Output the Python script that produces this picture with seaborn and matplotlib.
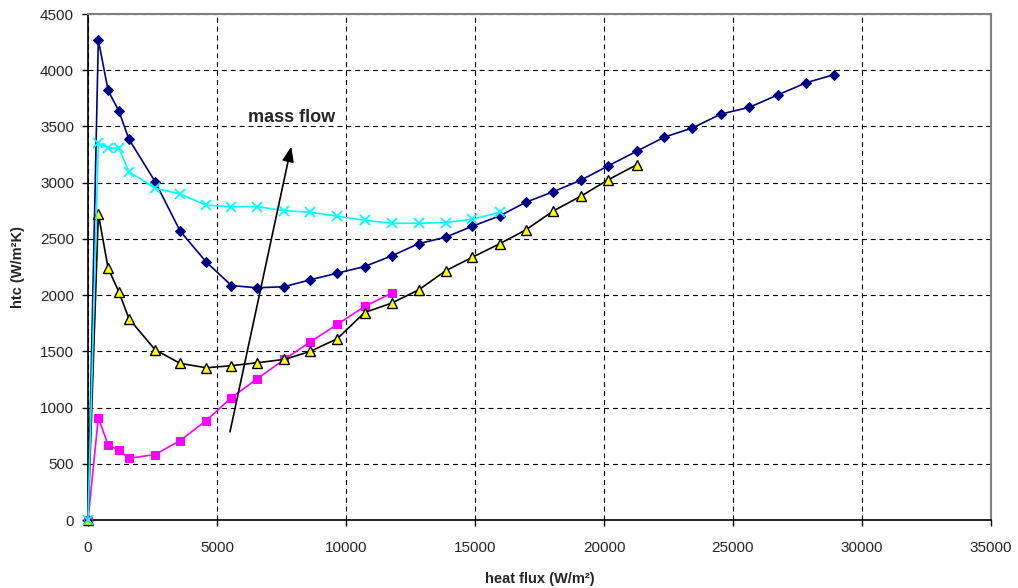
import matplotlib
matplotlib.use("Agg")
import matplotlib.pyplot as plt
import seaborn as sns

# ---- data ----
heat_flux = [0, 400, 780, 1190, 1590, 2600, 3570, 4580, 5560, 6560, 7610, 8610,
             9660, 10720, 11770, 12820, 13860, 14900, 15950, 16970, 18040, 19120,
             20150, 21270, 22340, 23430, 24530, 25630, 26730, 27830, 28900]

htc_diamond = [0, 4270, 3820, 3640, 3385, 3010, 2570, 2295, 2085, 2065, 2075, 2136,
               2195, 2254, 2349, 2458, 2515, 2613, 2704, 2826, 2920, 3024, 3148,
               3280, 3405, 3487, 3610, 3670, 3780, 3888, 3960]

htc_square = [0, 910, 668, 623, 549, 582, 706, 884, 1088, 1257, 1428, 1583, 1739,
              1899, 2018]

htc_triangle = [0, 2722, 2240, 2032, 1790, 1514, 1393, 1354, 1372, 1399, 1428, 1499,
                1612, 1845, 1929, 2047, 2216, 2337, 2456, 2580, 2749, 2882, 3024, 3160]

htc_cross = [0, 3355, 3308, 3308, 3098, 2950, 2900, 2799, 2787, 2787, 2751, 2737,
             2702, 2666, 2639, 2639, 2645, 2675, 2737]

x_ticks = [0, 5000, 10000, 15000, 20000, 25000, 30000, 35000]
y_ticks = [0, 500, 1000, 1500, 2000, 2500, 3000, 3500, 4000, 4500]

# ---- style ----
sns.set_style("white")
plt.rcParams['font.family'] = ['Liberation Sans', 'DejaVu Sans']

fig = plt.figure(figsize=(10.18, 5.88), dpi=100)
ax = fig.add_axes([88 / 1018, 1 - 520 / 588, (991 - 88) / 1018, (520 - 14) / 588])

sns.lineplot(x=heat_flux[:len(htc_diamond)], y=htc_diamond, ax=ax, color="#000080",
             marker="D", markersize=5.5, markeredgecolor="#000080", linewidth=1.2,
             estimator=None, sort=False, zorder=3, clip_on=False)
sns.lineplot(x=heat_flux[:len(htc_square)], y=htc_square, ax=ax, color="#FF00FF",
             marker="s", markersize=6, markeredgecolor="#FF00FF", linewidth=1.2,
             estimator=None, sort=False, zorder=4, clip_on=False)
sns.lineplot(x=heat_flux[:len(htc_triangle)], y=htc_triangle, ax=ax, color="black",
             marker="^", markersize=7.5, markerfacecolor="#FFFF00",
             markeredgecolor="black", markeredgewidth=1.0, linewidth=1.2,
             estimator=None, sort=False, zorder=5, clip_on=False)
sns.lineplot(x=heat_flux[:len(htc_cross)], y=htc_cross, ax=ax, color="#00FFFF",
             marker="x", markersize=7, markeredgecolor="#00FFFF", markeredgewidth=1.3,
             linewidth=1.2, estimator=None, sort=False, zorder=6, clip_on=False)

ax.set_xlim(0, 35000)
ax.set_ylim(0, 4500)
ax.set_xticks(x_ticks)
ax.set_yticks(y_ticks)
ax.set_xticklabels([str(v) for v in x_ticks], fontsize=11)
ax.set_yticklabels([str(v) for v in y_ticks], fontsize=11)

ax.grid(True, color="black", linestyle=(0, (4.5, 3.5)), linewidth=0.8, zorder=0)
ax.set_axisbelow(True)

for side in ["left", "bottom"]:
    ax.spines[side].set_color("black")
    ax.spines[side].set_linewidth(1.2)
for side in ["top", "right"]:
    ax.spines[side].set_color("#808080")
    ax.spines[side].set_linewidth(1.5)

ax.tick_params(axis="both", which="major", direction="out", length=4, width=1,
               color="black", left=True, bottom=True)
ax.tick_params(axis="y", pad=6)
ax.tick_params(axis="x", pad=11)

ax.set_xlabel("heat flux (W/m²)", fontsize=10.5, fontweight="bold", labelpad=12)
ax.set_ylabel("htc (W/m²K)", fontsize=10.5, fontweight="bold", labelpad=11)

ax.annotate("", xy=(7900, 3345), xytext=(5480, 760),
            arrowprops=dict(arrowstyle="-|>,head_length=0.9,head_width=0.35",
                            color="black", lw=1.2), zorder=7)
ax.text(6200, 3580, "mass flow", fontsize=13, fontweight="bold", ha="left",
        va="center", zorder=7)

fig.savefig("out.png", dpi=100)
